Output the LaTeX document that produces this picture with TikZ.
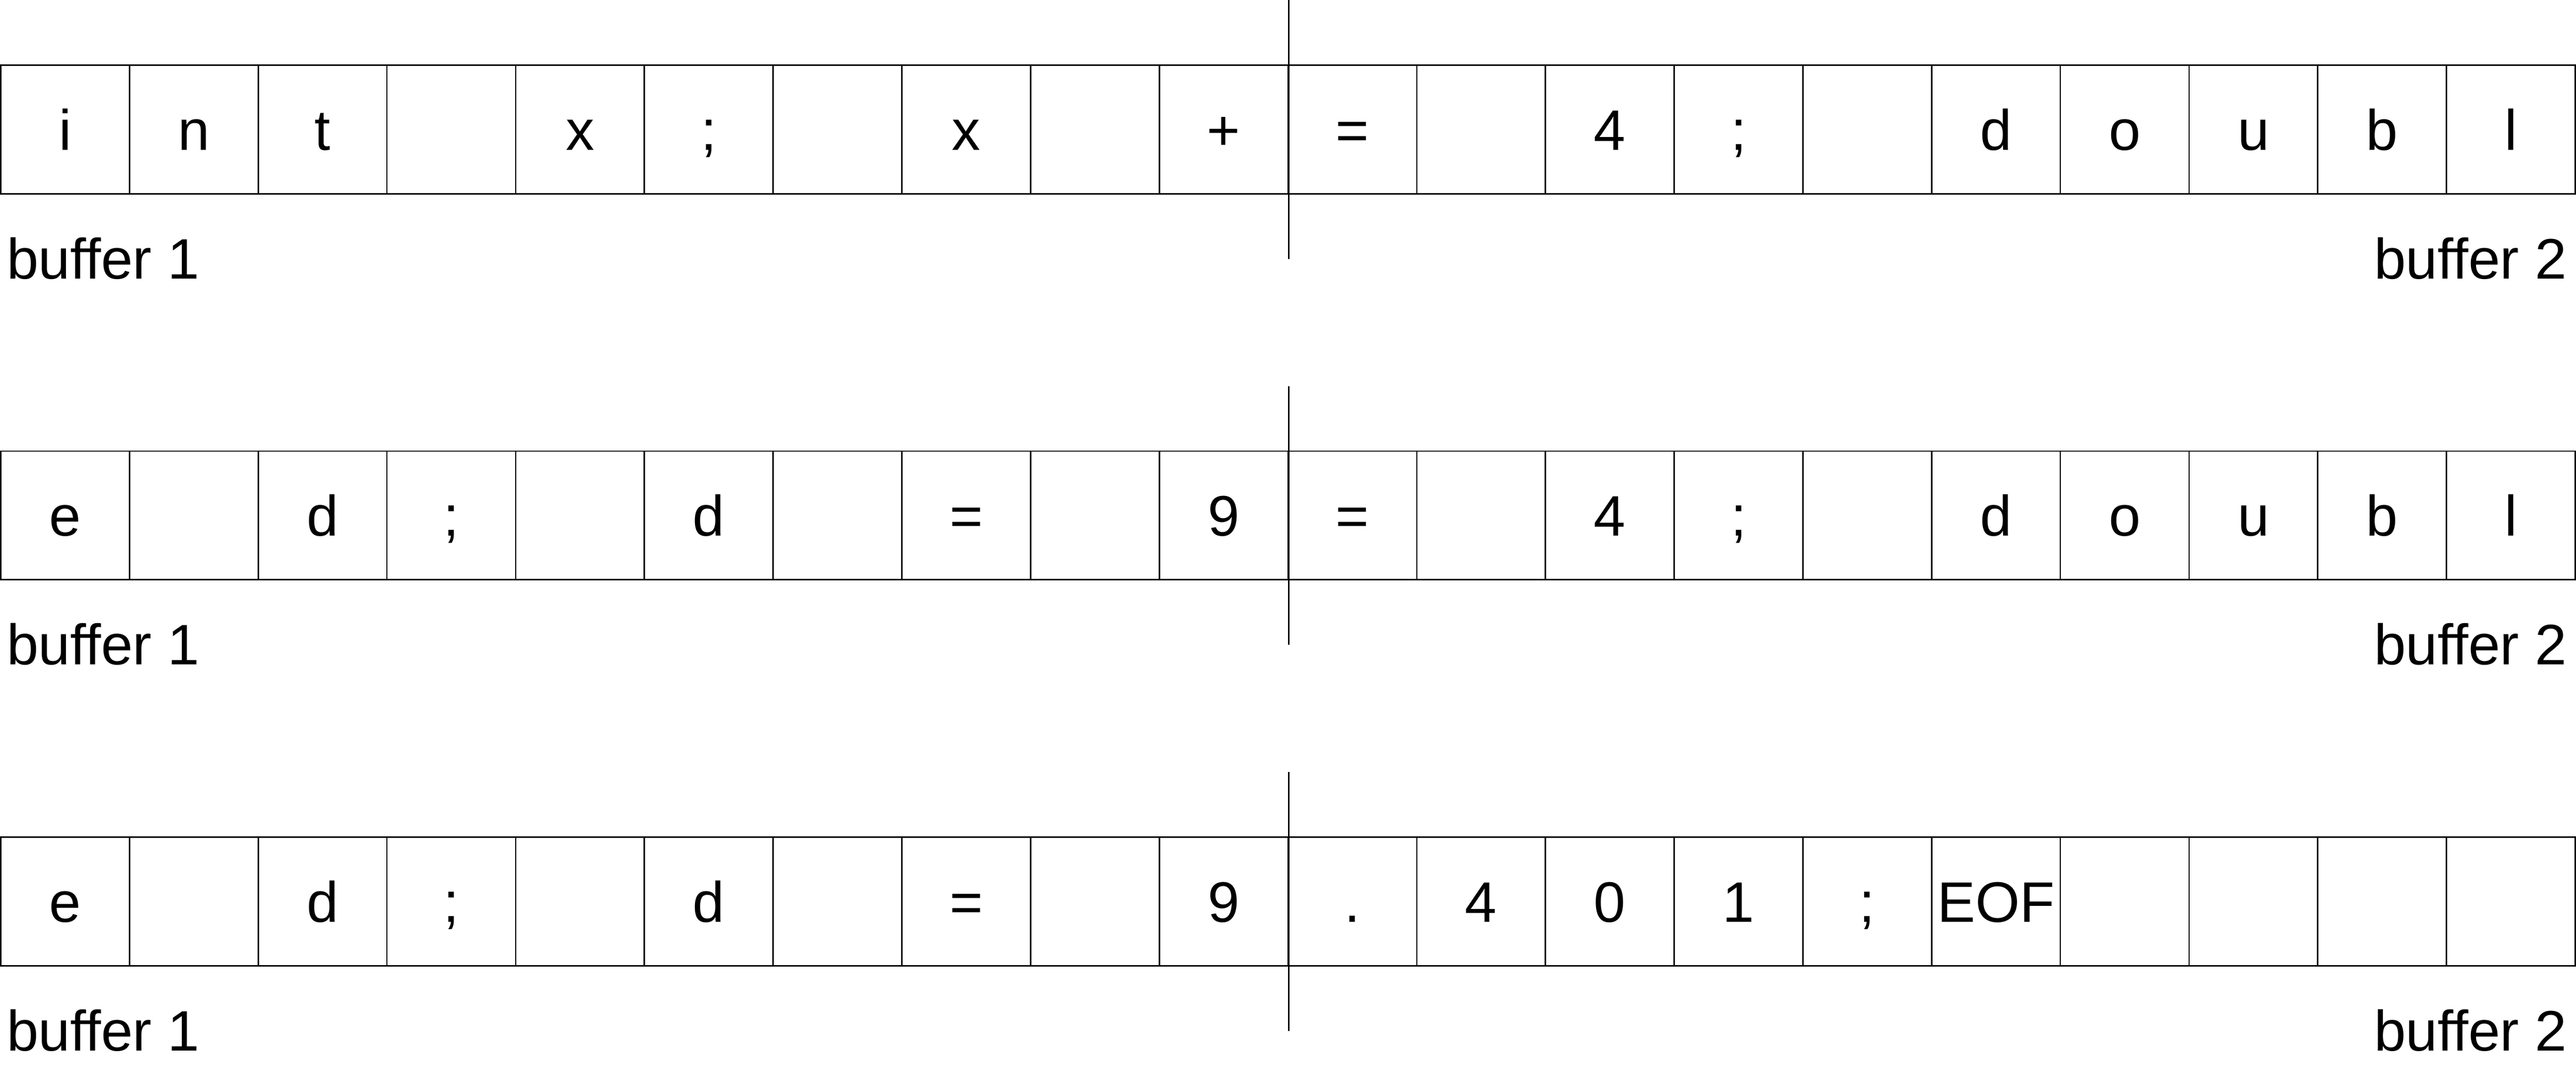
\documentclass[tikz,border=0pt]{standalone}
\usepackage{fontspec}
\setmainfont{Liberation Sans}
\begin{document}
\begin{tikzpicture}[x=1pt,y=1pt,
  cell/.style={draw, line width=0.35pt, minimum width=32pt, minimum height=32pt,
    inner sep=0pt, text height=10.2pt, text depth=0pt, font=\fontsize{14.2}{17}\selectfont},
  lbl/.style={inner sep=0pt, font=\fontsize{14.2}{17}\selectfont},
  divider/.style={line width=0.35pt}]
\useasboundingbox (0,0) rectangle (640.4,-264.8);
\foreach \rw/\yy/\lst in {
  1/-32.2/{i,n,t,{},x,;,{},x,{},+,=,{},4,;,{},d,o,u,b,l},
  2/-128.2/{e,{},d,;,{},d,{},=,{},9,=,{},4,;,{},d,o,u,b,l},
  3/-224.2/{e,{},d,;,{},d,{},=,{},9,.,4,0,1,;,EOF,{},{},{},{}}}{
  \foreach \c [count=\k] in \lst {
    \node[cell] (r\rw-\k) at ({0.2+32*(\k-0.5)}, \yy) {\c};
  }
  \draw[divider] ([yshift=16pt]r\rw-10.north east) -- ([yshift=-16pt]r\rw-10.south east);
  \node[lbl, anchor=base west] (bufA-\rw) at (1.5, \yy-37.1) {buffer 1};
  \node[lbl, anchor=base east] (bufB-\rw) at (638.3, \yy-37.1) {buffer 2};
}
\end{tikzpicture}
\end{document}
